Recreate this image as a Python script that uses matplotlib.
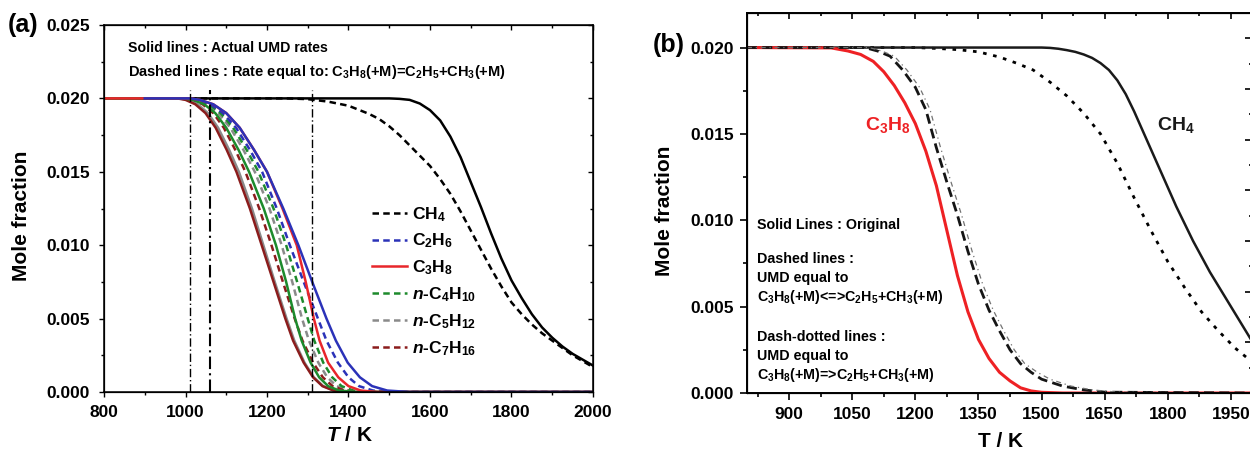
import matplotlib
matplotlib.use("Agg")
import matplotlib.pyplot as plt
from matplotlib.ticker import MultipleLocator, FormatStrFormatter
from matplotlib.lines import Line2D

plt.rcParams['font.family'] = ['Liberation Sans', 'DejaVu Sans']
plt.rcParams['mathtext.fontset'] = 'custom'
plt.rcParams['mathtext.rm'] = 'Liberation Sans'
plt.rcParams['mathtext.it'] = 'Liberation Sans:italic:bold'
plt.rcParams['mathtext.bf'] = 'Liberation Sans:bold'
plt.rcParams['mathtext.default'] = 'regular'

# ---------------- Panel (a) data ----------------
# mole-fraction levels and the temperature (K) at which each curve reaches them
levels_a = [0.0200, 0.0199, 0.0196, 0.0190, 0.0180, 0.0165, 0.0150, 0.0125, 0.0100,
            0.0075, 0.0050, 0.0035, 0.0020, 0.0010, 0.0004, 0.0001, 0.0000]
T_c5_solid = [985, 1005, 1030, 1055, 1080, 1107, 1131, 1163, 1191, 1219, 1248, 1267, 1292, 1315, 1338, 1365, 1410]
T_c7_solid = [980, 1000, 1024, 1049, 1074, 1101, 1125, 1158, 1187, 1216, 1245, 1264, 1290, 1313, 1336, 1363, 1405]
T_c7_dash = [995, 1016, 1042, 1068, 1094, 1122, 1147, 1181, 1211, 1239, 1268, 1287, 1313, 1337, 1361, 1390, 1435]
T_c4_solid = [995, 1018, 1046, 1073, 1100, 1130, 1156, 1192, 1222, 1247, 1269, 1285, 1307, 1328, 1350, 1377, 1420]
T_c5_dash = [1000, 1022, 1052, 1080, 1110, 1142, 1170, 1206, 1236, 1262, 1286, 1303, 1326, 1348, 1371, 1400, 1445]
T_c4_dash = [1003, 1026, 1057, 1086, 1117, 1150, 1179, 1216, 1247, 1274, 1300, 1316, 1338, 1360, 1383, 1412, 1460]
T_c2_dash = [1008, 1030, 1062, 1092, 1124, 1158, 1188, 1224, 1256, 1290, 1325, 1346, 1374, 1400, 1426, 1460, 1515]
T_c2_solid = [1012, 1035, 1068, 1100, 1133, 1168, 1200, 1240, 1277, 1311, 1346, 1369, 1398, 1428, 1458, 1495, 1550]
T_c3_solid = [1012, 1035, 1068, 1100, 1133, 1168, 1200, 1238, 1273, 1295, 1315, 1329, 1350, 1375, 1400, 1430, 1470]

T_ch4_solid = [800, 1500, 1525, 1550, 1575, 1600, 1625, 1650, 1675, 1700, 1725, 1750, 1775, 1800,
               1825, 1850, 1875, 1900, 1925, 1950, 1975, 2000]
X_ch4_solid = [0.0200, 0.0200, 0.01997, 0.0199, 0.01965, 0.0192, 0.0185, 0.0174, 0.0160, 0.0143, 0.0126,
               0.0108, 0.0091, 0.0076, 0.0064, 0.0053, 0.0044, 0.0037, 0.0031, 0.0026, 0.0022, 0.0018]
T_ch4_dash = [800, 1250, 1300, 1350, 1400, 1450, 1475, 1500, 1525, 1550, 1575, 1600, 1625, 1650, 1675,
              1700, 1725, 1750, 1775, 1800, 1825, 1850, 1875, 1900, 1925, 1950, 1975, 2000]
X_ch4_dash = [0.0200, 0.0200, 0.01995, 0.01978, 0.0195, 0.01895, 0.0186, 0.0181, 0.0175, 0.0168, 0.0161,
              0.0154, 0.0145, 0.0135, 0.0123, 0.0110, 0.0097, 0.0084, 0.0072, 0.0061, 0.0053, 0.0046,
              0.0040, 0.0035, 0.0030, 0.0025, 0.0021, 0.0017]
vlines_T = [1010, 1060, 1310]

legend_labels = ['CH$_4$', 'C$_2$H$_6$', 'C$_3$H$_8$', '$\\mathit{n}$-C$_4$H$_{10}$',
                 '$\\mathit{n}$-C$_5$H$_{12}$', '$\\mathit{n}$-C$_7$H$_{16}$']

# ---------------- Panel (b) data ----------------
T_b_c3_solid = [800, 1000, 1040, 1070, 1100, 1125, 1150, 1175, 1200, 1225, 1250, 1275, 1300, 1325,
                1350, 1375, 1400, 1425, 1450, 1475, 1500, 1550, 2000]
X_b_c3_solid = [0.0200, 0.01998, 0.0198, 0.0196, 0.0192, 0.0186, 0.0178, 0.0168, 0.0156, 0.0140, 0.0120,
                0.0094, 0.0068, 0.0047, 0.0031, 0.0020, 0.0012, 0.0007, 0.0003, 0.00012, 0.00004, 0.0, 0.0]
T_b_c3_dash = [800, 1080, 1110, 1140, 1170, 1200, 1225, 1250, 1275, 1300, 1325, 1350, 1375, 1400,
               1425, 1450, 1475, 1500, 1550, 1600, 1650, 2000]
X_b_c3_dash = [0.0200, 0.0200, 0.0198, 0.0195, 0.0187, 0.0177, 0.0164, 0.0142, 0.0122, 0.0103, 0.0082,
               0.0063, 0.0048, 0.0036, 0.0025, 0.0017, 0.0012, 0.0008, 0.0004, 0.00018, 0.00005, 0.0]
T_b_c3_dashdot = [800, 1090, 1120, 1150, 1180, 1210, 1235, 1260, 1285, 1310, 1335, 1360, 1385, 1410,
                  1435, 1460, 1490, 1520, 1570, 1620, 1680, 2000]
X_b_c3_dashdot = [0.0200, 0.0200, 0.0198, 0.0195, 0.0187, 0.0177, 0.0164, 0.0142, 0.0122, 0.0103, 0.0082,
                  0.0063, 0.0048, 0.0036, 0.0025, 0.0017, 0.0012, 0.0008, 0.0004, 0.00018, 0.00005, 0.0]
T_b_ch4_solid = [800, 1500, 1520, 1540, 1560, 1580, 1600, 1620, 1640, 1660, 1680, 1700, 1720, 1740,
                 1760, 1780, 1800, 1820, 1840, 1860, 1880, 1900, 1920, 1940, 1960, 1980, 2000]
X_b_ch4_solid = [0.0200, 0.0200, 0.01998, 0.01993, 0.01985, 0.01975, 0.0196, 0.0194, 0.0191, 0.0187,
                 0.0181, 0.0173, 0.0163, 0.0152, 0.0141, 0.0130, 0.0119, 0.0108, 0.0098, 0.0088, 0.0079,
                 0.0070, 0.0062, 0.0054, 0.0046, 0.0038, 0.0030]
T_b_ch4_dash = [800, 1200, 1250, 1300, 1350, 1400, 1440, 1480, 1520, 1560, 1600, 1640, 1680, 1720,
                1760, 1800, 1840, 1880, 1920, 1960, 2000]
X_b_ch4_dash = [0.0200, 0.0200, 0.01995, 0.01988, 0.01975, 0.01945, 0.0191, 0.0187, 0.0180, 0.0172,
                0.0162, 0.0150, 0.0133, 0.0113, 0.0094, 0.0076, 0.0061, 0.0047, 0.0036, 0.0026, 0.0018]

# ---------------- styles ----------------
C_BLUE = '#2b32b8'
C_RED = '#e8262b'
C_GREEN = '#1d8a2c'
C_GRAY = '#8a8a8a'
C_DKRED = '#8b1c1c'
DASH_A = (0, (2.6, 1.7))
LW_A = 1.8

fig = plt.figure(figsize=(12.5, 4.5), dpi=100)

# =============== Panel (a) ===============
axA = fig.add_axes([104 / 1250, 58 / 450, 489 / 1250, 367 / 450])


def lv(Tlist, start=800):
    return [start] + Tlist + [2000], [levels_a[0]] + levels_a + [0.0]


axA.plot(T_ch4_dash, X_ch4_dash, color='black', lw=LW_A, linestyle=DASH_A)
axA.plot(T_ch4_solid, X_ch4_solid, color='black', lw=LW_A)
for Tl, col in [(T_c5_dash, C_GRAY), (T_c7_dash, C_DKRED), (T_c4_dash, C_GREEN), (T_c2_dash, C_BLUE)]:
    x, y = lv(Tl)
    axA.plot(x, y, color=col, lw=LW_A, linestyle=DASH_A)
for Tl, col in [(T_c5_solid, C_GRAY), (T_c7_solid, C_DKRED), (T_c4_solid, C_GREEN)]:
    x, y = lv(Tl)
    axA.plot(x, y, color=col, lw=LW_A)
x, y = lv(T_c3_solid)
axA.plot(x, y, color=C_RED, lw=LW_A)
x, y = lv(T_c2_solid, start=900)
axA.plot(x, y, color=C_BLUE, lw=LW_A)

for i, Tv in enumerate(vlines_T):
    axA.plot([Tv, Tv], [0, 0.0206], color='black', lw=1.5 if i == 1 else 1.0,
             linestyle=(0, (6, 2, 1, 2)))

axA.set_xlim(800, 2000)
axA.set_ylim(0, 0.025)
axA.xaxis.set_major_locator(MultipleLocator(200))
axA.xaxis.set_minor_locator(MultipleLocator(100))
axA.yaxis.set_major_locator(MultipleLocator(0.005))
axA.yaxis.set_minor_locator(MultipleLocator(0.0025))
axA.yaxis.set_major_formatter(FormatStrFormatter('%.3f'))
axA.tick_params(which='both', direction='out', width=1.0, top=False, right=False)
axA.tick_params(which='major', length=3.6, labelsize=12.5)
axA.tick_params(axis='x', which='major', pad=5.8)
axA.tick_params(axis='y', which='major', pad=6.8)
axA.tick_params(which='minor', length=2.0)
for lab in axA.get_xticklabels() + axA.get_yticklabels():
    lab.set_fontweight('bold')
for sp in axA.spines.values():
    sp.set_linewidth(1.1)

axA_t = axA.twiny()
axA_t.set_xlim(800, 2000)
axA_t.xaxis.set_major_locator(MultipleLocator(200))
axA_t.xaxis.set_minor_locator(MultipleLocator(100))
axA_t.tick_params(which='both', direction='in', width=1.0, labeltop=False)
axA_t.tick_params(which='major', length=3.6)
axA_t.tick_params(which='minor', length=2.0)
axA_r = axA.twinx()
axA_r.set_ylim(0, 0.025)
axA_r.yaxis.set_major_locator(MultipleLocator(0.005))
axA_r.yaxis.set_minor_locator(MultipleLocator(0.0025))
axA_r.tick_params(which='both', direction='in', width=1.0, labelright=False)
axA_r.tick_params(which='major', length=3.6)
axA_r.tick_params(which='minor', length=2.0)

axA.set_ylabel('Mole fraction', fontsize=15, fontweight='bold')
axA.yaxis.set_label_coords(-0.15, 0.48)
axA.set_xlabel('$\\mathit{T}$ / K', fontsize=15, fontweight='bold')
axA.xaxis.set_label_coords(0.503, -0.094)

axA.text(0.049, 0.937, 'Solid lines : Actual UMD rates', transform=axA.transAxes,
         fontsize=10.2, fontweight='bold', va='center', ha='left')
axA.text(0.049, 0.872, 'Dashed lines : Rate equal to: C$_3$H$_8$(+M)=C$_2$H$_5$+CH$_3$(+M)',
         transform=axA.transAxes, fontsize=10.5, fontweight='bold', va='center', ha='left')

handles = [Line2D([], [], color='black', lw=LW_A, linestyle=DASH_A),
           Line2D([], [], color=C_BLUE, lw=LW_A, linestyle=DASH_A),
           Line2D([], [], color=C_RED, lw=LW_A),
           Line2D([], [], color=C_GREEN, lw=LW_A, linestyle=DASH_A),
           Line2D([], [], color=C_GRAY, lw=LW_A, linestyle=DASH_A),
           Line2D([], [], color=C_DKRED, lw=LW_A, linestyle=DASH_A)]
leg = axA.legend(handles, legend_labels, loc='upper left', bbox_to_anchor=(0.548, 0.51),
                 frameon=False, handlelength=2.0, handletextpad=0.3, labelspacing=0.47,
                 borderaxespad=0, borderpad=0, prop={'size': 12.5, 'weight': 'bold'})

fig.text(0.006, 0.944, '(a)', fontsize=18, fontweight='bold', va='center', ha='left')

# =============== Panel (b) ===============
axB = fig.add_axes([747 / 1250, 57 / 450, 505 / 1250, 380 / 450])
axB.plot(T_b_ch4_dash, X_b_ch4_dash, color='black', lw=2.0, linestyle=(0, (1.3, 2.4)))
axB.plot(T_b_ch4_solid, X_b_ch4_solid, color='#1a1a1a', lw=1.8)
axB.plot(T_b_c3_solid, X_b_c3_solid, color='#ee2124', lw=2.2)
axB.plot(T_b_c3_dash, X_b_c3_dash, color='#151515', lw=2.0, linestyle=(0, (3.6, 1.9)))
axB.plot(T_b_c3_dashdot, X_b_c3_dashdot, color='0.45', lw=0.9, linestyle=(0, (4, 3, 1, 3)))

axB.set_xlim(800, 2000)
axB.set_ylim(0, 0.022)
axB.xaxis.set_major_locator(MultipleLocator(150))
axB.xaxis.set_minor_locator(MultipleLocator(75))
axB.yaxis.set_major_locator(MultipleLocator(0.005))
axB.yaxis.set_minor_locator(MultipleLocator(0.0025))
axB.yaxis.set_major_formatter(FormatStrFormatter('%.3f'))
axB.tick_params(which='both', direction='out', width=1.2, top=False, right=False)
axB.tick_params(which='major', length=4.8, labelsize=12.5)
axB.tick_params(axis='x', which='major', pad=5.4)
axB.tick_params(axis='y', which='major', pad=4.6)
axB.tick_params(which='minor', length=2.6)
for lab in axB.get_xticklabels() + axB.get_yticklabels():
    lab.set_fontweight('bold')
for sp in axB.spines.values():
    sp.set_linewidth(1.4)

axB_t = axB.twiny()
axB_t.set_xlim(800, 2000)
axB_t.xaxis.set_major_locator(MultipleLocator(150))
axB_t.xaxis.set_minor_locator(MultipleLocator(75))
axB_t.tick_params(which='both', direction='in', width=1.2, labeltop=False)
axB_t.tick_params(which='major', length=4.2)
axB_t.tick_params(which='minor', length=2.4)
axB_r = axB.twinx()
axB_r.set_ylim(0, 7.5)
axB_r.yaxis.set_major_locator(MultipleLocator(1))
axB_r.yaxis.set_minor_locator(MultipleLocator(0.5))
axB_r.tick_params(which='both', direction='in', width=1.2, labelright=False)
axB_r.tick_params(which='major', length=4.8)
axB_r.tick_params(which='minor', length=2.0)

axB.set_ylabel('Mole fraction', fontsize=15, fontweight='bold')
axB.yaxis.set_label_coords(-0.145, 0.48)
axB.set_xlabel('T / K', fontsize=15, fontweight='bold')
axB.xaxis.set_label_coords(0.502, -0.102)

axB.text(0.278, 0.705, 'C$_3$H$_8$', color='#ee2124', fontsize=14, fontweight='bold',
         transform=axB.transAxes, ha='center', va='center')
axB.text(0.849, 0.705, 'CH$_4$', color='#1a1a1a', fontsize=14, fontweight='bold',
         transform=axB.transAxes, ha='center', va='center')

txt_b = [(0.442, 'Solid Lines : Original'),
         (0.353, 'Dashed lines :'),
         (0.303, 'UMD equal to'),
         (0.253, 'C$_3$H$_8$(+M)<=>C$_2$H$_5$+CH$_3$(+M)'),
         (0.147, 'Dash-dotted lines :'),
         (0.097, 'UMD equal to'),
         (0.047, 'C$_3$H$_8$(+M)=>C$_2$H$_5$+CH$_3$(+M)')]
for yy, s in txt_b:
    axB.text(0.02, yy, s, transform=axB.transAxes, fontsize=10.3, fontweight='bold',
             va='center', ha='left')

fig.text(0.522, 0.9, '(b)', fontsize=18, fontweight='bold', va='center', ha='left')

fig.savefig('out.png', dpi=100)
